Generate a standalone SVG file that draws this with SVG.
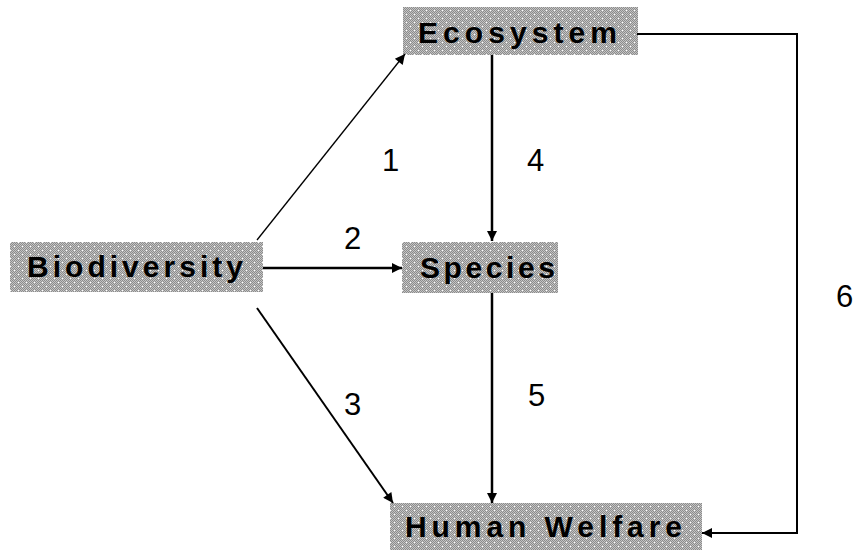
<svg xmlns="http://www.w3.org/2000/svg" width="854" height="551" viewBox="0 0 854 551">
<defs>
<pattern id="chk" width="2" height="2" patternUnits="userSpaceOnUse">
<rect width="2" height="2" fill="#c4c4c4"/>
<rect width="1" height="1" fill="#8c8c8c"/>
<rect x="1" y="1" width="1" height="1" fill="#8c8c8c"/>
</pattern>
<pattern id="halftone" width="8" height="8" patternUnits="userSpaceOnUse">
<rect width="8" height="8" fill="url(#chk)"/>
<rect x="2" y="2" width="1" height="1" fill="#ffffff"/>
<rect x="6" y="6" width="1" height="1" fill="#ffffff"/>
</pattern>
<marker id="ah" viewBox="0 0 10 10" refX="10" refY="5" markerWidth="12" markerHeight="10" markerUnits="userSpaceOnUse" orient="auto">
<path d="M0,0 L10,5 L0,10 z" fill="#000"/>
</marker>
</defs>
<style>
.box{fill:url(#halftone);shape-rendering:crispEdges}
.lbl{font-family:"Liberation Sans",Arial,sans-serif;font-weight:bold;font-size:30px;fill:#000}
.num{font-family:"Liberation Sans",Arial,sans-serif;font-size:31px;fill:#000}
.edge{fill:none;stroke:#000;marker-end:url(#ah)}
</style>
<g id="ecosystem">
<rect class="box" x="403" y="7" width="235" height="48"/>
<text class="lbl" x="418" y="43" textLength="199" lengthAdjust="spacing">Ecosystem</text>
</g>
<g id="biodiversity">
<rect class="box" x="10" y="242" width="253" height="50"/>
<text class="lbl" x="27" y="277" textLength="216" lengthAdjust="spacing">Biodiversity</text>
</g>
<g id="species">
<rect class="box" x="402" y="242" width="156" height="51"/>
<text class="lbl" x="420" y="278" textLength="135" lengthAdjust="spacing">Species</text>
</g>
<g id="human-welfare">
<rect class="box" x="390" y="503" width="312" height="47"/>
<text class="lbl" x="405" y="537" textLength="277" lengthAdjust="spacing">Human Welfare</text>
</g>
<g id="connectors">
<line class="edge" x1="257" y1="240" x2="405" y2="54" stroke-width="1.3"/>
<line class="edge" x1="263" y1="268" x2="402" y2="268" stroke-width="2.5"/>
<line class="edge" x1="257" y1="308" x2="393" y2="503" stroke-width="2"/>
<line class="edge" x1="492" y1="55" x2="492" y2="241" stroke-width="2.5"/>
<line class="edge" x1="492" y1="293" x2="492" y2="503" stroke-width="2.5"/>
<polyline class="edge" points="637,34 797,34 797,533 702,533" stroke-width="2" stroke="#111"/>
</g>
<g id="labels">
<text class="num" x="382" y="171">1</text>
<text class="num" x="344" y="249">2</text>
<text class="num" x="344" y="415">3</text>
<text class="num" x="527" y="171">4</text>
<text class="num" x="528" y="406">5</text>
<text class="num" x="836" y="307">6</text>
</g>
</svg>
